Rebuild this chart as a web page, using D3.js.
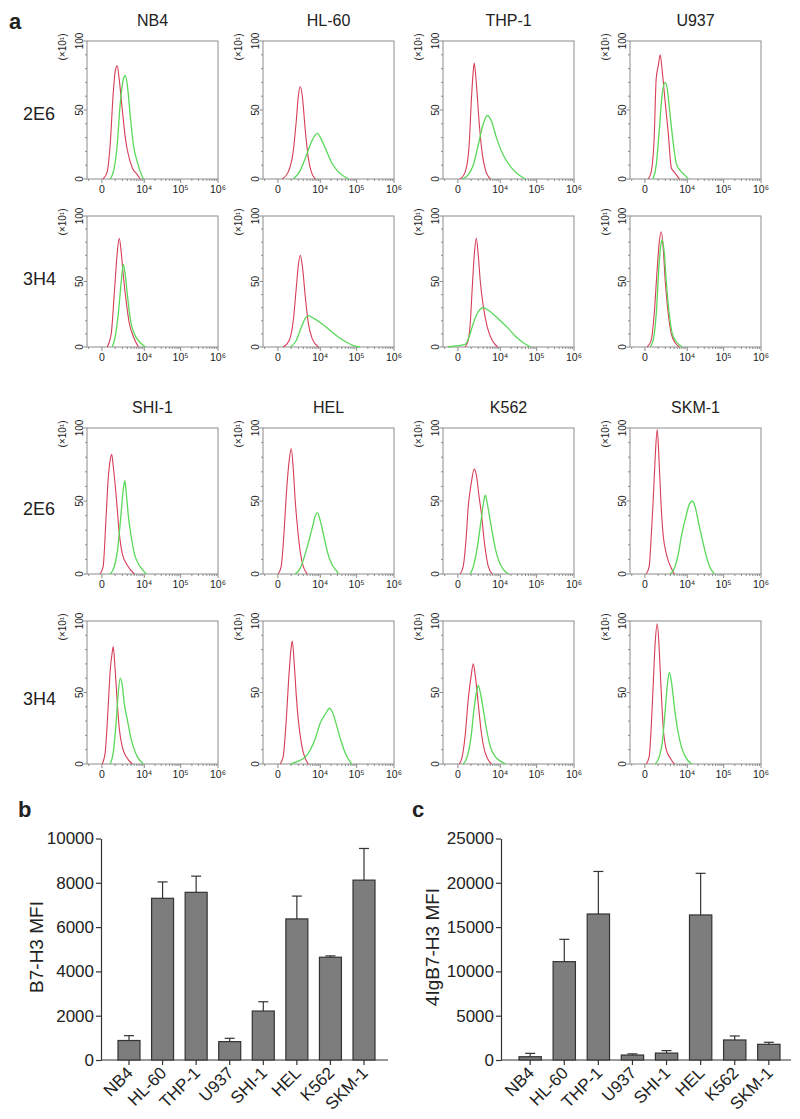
<!DOCTYPE html>
<html><head><meta charset="utf-8">
<script src="https://cdn.jsdelivr.net/npm/d3@7"></script>
<style>
body{margin:0;background:#fff}
svg{display:block}
text{font-family:"Liberation Sans",Arial,sans-serif;fill:#222}
</style>
</head><body>
<svg id="chart" width="800" height="1119"></svg>
<script>
// ---------------- DATA ----------------
const cellLines = ["NB4","HL-60","THP-1","U937","SHI-1","HEL","K562","SKM-1"];
const antibodies = ["2E6","3H4"];
const histXTicks = [0, 1e4, 1e5, 1e6];
const histXTickLabels = ["0","10\u2074","10\u2075","10\u2076"];
const histYTicks = [0, 50, 100];
const histYUnit = "(\u00d710\u00b9)";

// histograms: [fluorescence intensity, count (x10)] ; ctrl = red, stain = green
const NB4_2E6_ctrl = [[60,0],[300,5],[530,25],[800,62],[1010,78],[1250,82],[1520,72],[2000,50],[2570,30],[3010,21],[4390,8],[6280,3],[7720,0]];
const NB4_2E6_stain = [[530,0],[905,8],[1250,25],[1670,55],[2170,72],[2570,75],[3010,68],[3790,45],[4720,25],[6280,12],[7720,5],[9460,0]];
const HL60_2E6_ctrl = [[240,0],[700,5],[1250,20],[1670,42],[2000,60],[2360,67],[2780,60],[3510,35],[4390,15],[5450,5],[7220,0]];
const HL60_2E6_stain = [[1250,0],[2170,5],[3510,15],[5080,25],[6730,31],[8300,33],[10100,30],[14100,22],[20800,12],[32500,5],[61000,0]];
const THP1_2E6_ctrl = [[120,0],[450,5],[800,25],[1010,55],[1250,78],[1380,84],[1670,70],[2170,40],[2780,18],[3510,7],[5080,0]];
const THP1_2E6_stain = [[240,0],[700,3],[1250,10],[2000,25],[3010,40],[4080,46],[5450,42],[7720,30],[12350,17],[20800,8],[32500,3],[50600,0]];
const U937_2E6_ctrl = [[176,0],[375,5],[614,30],[802,73],[1013,82],[1253,90],[1521,78],[1995,55],[2566,33],[3254,8],[4080,5],[5850,0]];
const U937_2E6_stain = [[529,0],[802,10],[1129,35],[1521,62],[1995,70],[2364,65],[2781,52],[3254,38],[4080,20],[4720,11],[6280,6],[8300,3],[10800,0]];
const NB4_3H4_ctrl = [[304,0],[614,10],[905,40],[1253,72],[1521,83],[1827,72],[2173,55],[2781,34],[3513,18],[4720,8],[6730,0]];
const NB4_3H4_stain = [[705,0],[1013,8],[1383,25],[1827,50],[2173,63],[2566,55],[3010,40],[3788,21],[5076,10],[7220,4],[10800,0]];
const HL60_3H4_ctrl = [[304,0],[802,5],[1253,20],[1669,45],[1995,62],[2364,70],[2781,62],[3513,38],[4392,18],[5850,6],[8850,0]];
const HL60_3H4_stain = [[905,0],[1669,5],[2566,15],[3513,22],[4392,24],[6280,22],[10800,18],[18300,13],[30500,8],[50600,4],[83400,1],[121000,0]];
const THP1_3H4_ctrl = [[450,0],[705,5],[905,18],[1129,45],[1383,70],[1669,83],[1995,70],[2364,50],[3010,31],[4080,15],[5850,5],[8300,0]];
const THP1_3H4_stain = [[-666,0],[10,1],[450,2],[802,8],[1253,18],[1995,27],[3010,30],[4392,28],[6280,25],[10110,20],[17120,14],[26900,8],[44600,3],[69100,0]];
const U937_3H4_ctrl = [[118,0],[375,5],[614,25],[905,60],[1129,80],[1383,88],[1669,75],[1995,50],[2566,25],[3254,10],[4392,3],[5850,0]];
const U937_3H4_stain = [[304,0],[529,5],[802,25],[1129,65],[1383,80],[1521,82],[1827,72],[2173,50],[2781,25],[3513,10],[4720,4],[7220,0]];
const SHI1_2E6_ctrl = [[-94,0],[62,5],[238,40],[375,65],[529,78],[660,82],[802,74],[1129,53],[1521,28],[1995,14],[3010,6],[5076,0]];
const SHI1_2E6_stain = [[529,0],[905,5],[1253,15],[1669,35],[2173,58],[2463,64],[2781,55],[3254,40],[4080,25],[5076,14],[6730,7],[8850,3],[11550,0]];
const HEL_2E6_ctrl = [[10,0],[176,5],[375,30],[529,53],[802,78],[1013,86],[1253,72],[1521,50],[1910,30],[2364,15],[3010,5],[4080,0]];
const HEL_2E6_stain = [[1521,0],[2364,4],[3513,14],[4720,24],[5850,32],[7220,40],[8300,42],[10110,36],[12350,27],[16000,15],[20800,7],[26900,3],[32500,0]];
const K562_2E6_ctrl = [[118,0],[304,5],[529,25],[705,46],[1013,62],[1383,72],[1669,68],[2173,52],[2566,42],[3254,22],[4392,5],[5850,0]];
const K562_2E6_stain = [[905,0],[1253,5],[1827,18],[2566,38],[3254,52],[3513,54],[4080,48],[4720,40],[5850,28],[7220,17],[9460,8],[12350,3],[17120,0]];
const SKM1_2E6_ctrl = [[62,0],[238,5],[375,25],[529,50],[705,80],[905,99],[1129,75],[1383,45],[1669,26],[2173,14],[2566,9],[3254,4],[4080,0]];
const SKM1_2E6_stain = [[3010,0],[4080,4],[5450,14],[6730,26],[8850,38],[11550,48],[14100,50],[17120,45],[20800,35],[25170,26],[32500,14],[41800,5],[57300,0]];
const SHI1_3H4_ctrl = [[10,0],[176,8],[375,40],[529,65],[705,78],[802,82],[1013,65],[1253,43],[1521,25],[1995,12],[2781,5],[4392,0]];
const SHI1_3H4_stain = [[529,0],[802,8],[1129,30],[1383,50],[1669,60],[1995,55],[2364,42],[3010,31],[3788,20],[4720,12],[6280,5],[9460,0]];
const HEL_3H4_ctrl = [[118,0],[304,5],[529,30],[802,65],[1013,82],[1129,86],[1383,70],[1669,48],[1995,31],[2566,15],[3010,8],[4392,0]];
const HEL_3H4_stain = [[905,0],[1995,2],[3513,5],[5076,10],[7220,18],[10110,29],[14100,35],[18300,39],[22160,36],[28600,27],[36900,17],[50600,7],[73300,0]];
const K562_3H4_ctrl = [[62,0],[238,5],[450,20],[705,45],[1013,62],[1253,70],[1521,62],[1995,42],[2566,22],[3254,10],[4080,4],[5450,0]];
const K562_3H4_stain = [[304,0],[614,5],[1013,20],[1383,40],[1827,53],[1995,55],[2364,50],[3010,38],[3788,25],[5076,12],[7220,5],[10110,2],[14100,0]];
const SKM1_3H4_ctrl = [[62,0],[238,5],[375,25],[529,55],[705,85],[905,98],[1129,80],[1383,50],[1669,25],[2173,10],[3010,4],[4080,0]];
const SKM1_3H4_stain = [[705,0],[1129,5],[1521,15],[1995,38],[2364,55],[2781,64],[3254,58],[4080,40],[5076,25],[6730,12],[8850,5],[13180,0]];

// bar charts
const b7h3MFI = [880, 7300, 7570, 830, 2210, 6370, 4640, 8120];
const b7h3Err = [220, 740, 730, 150, 420, 1030, 60, 1430];
const b7h3Ticks = [0, 2000, 4000, 6000, 8000, 10000];
const igMFI = [370, 11100, 16480, 560, 780, 16370, 2260, 1770];
const igErr = [380, 2520, 4800, 130, 280, 4700, 450, 230];
const igTicks = [0, 5000, 10000, 15000, 20000, 25000];

// panel assembly
const panels = [
  {line:"NB4",  ab:"2E6", ctrl:NB4_2E6_ctrl,  stain:NB4_2E6_stain},
  {line:"HL-60",ab:"2E6", ctrl:HL60_2E6_ctrl, stain:HL60_2E6_stain},
  {line:"THP-1",ab:"2E6", ctrl:THP1_2E6_ctrl, stain:THP1_2E6_stain},
  {line:"U937", ab:"2E6", ctrl:U937_2E6_ctrl, stain:U937_2E6_stain},
  {line:"NB4",  ab:"3H4", ctrl:NB4_3H4_ctrl,  stain:NB4_3H4_stain},
  {line:"HL-60",ab:"3H4", ctrl:HL60_3H4_ctrl, stain:HL60_3H4_stain},
  {line:"THP-1",ab:"3H4", ctrl:THP1_3H4_ctrl, stain:THP1_3H4_stain},
  {line:"U937", ab:"3H4", ctrl:U937_3H4_ctrl, stain:U937_3H4_stain},
  {line:"SHI-1",ab:"2E6", ctrl:SHI1_2E6_ctrl, stain:SHI1_2E6_stain},
  {line:"HEL",  ab:"2E6", ctrl:HEL_2E6_ctrl,  stain:HEL_2E6_stain},
  {line:"K562", ab:"2E6", ctrl:K562_2E6_ctrl, stain:K562_2E6_stain},
  {line:"SKM-1",ab:"2E6", ctrl:SKM1_2E6_ctrl, stain:SKM1_2E6_stain},
  {line:"SHI-1",ab:"3H4", ctrl:SHI1_3H4_ctrl, stain:SHI1_3H4_stain},
  {line:"HEL",  ab:"3H4", ctrl:HEL_3H4_ctrl,  stain:HEL_3H4_stain},
  {line:"K562", ab:"3H4", ctrl:K562_3H4_ctrl, stain:K562_3H4_stain},
  {line:"SKM-1",ab:"3H4", ctrl:SKM1_3H4_ctrl, stain:SKM1_3H4_stain}
];

// ---------------- DRAW ----------------
const svg = d3.select("#chart");
const RED = "#d63d57", GREEN = "#5ad85a", FRAME = "#8c8c8c";

const colLeft = [87, 263, 443, 630], frameW = 131;
const rowTop = [41, 216, 428, 621], rowBottom = [179, 347, 574, 764];
const rowLabelY = [120, 285, 515, 705];

svg.append("text").attr("x", 9).attr("y", 29).attr("font-size", 22).attr("font-weight", "bold").text("a");

rowTop.forEach((t, r) => {
  svg.append("text").attr("x", 23).attr("y", rowLabelY[r]).attr("font-size", 18).attr("fill", "#333")
    .text(antibodies[r % 2]);
});

const minorX = [];
for (let k = 1; k <= 9; k++) minorX.push(k * 1000);
for (let k = 2; k <= 9; k++) { minorX.push(k * 1e4); minorX.push(k * 1e5); }
minorX.push(-1000);
const minorY = d3.range(0, 101, 10);

panels.forEach((p, i) => {
  const r = Math.floor(i / 4), c = i % 4;
  const L = colLeft[c], T = rowTop[r], B = rowBottom[r];
  const x = d3.scaleSymlog().constant(800).domain([-1200, 1e6]).range([L, L + frameW]);
  const y = d3.scaleLinear().domain([0, 100]).range([B, T]);
  const g = svg.append("g");

  if (r % 2 === 0) {
    g.append("text").attr("x", L + frameW / 2).attr("y", T - 15).attr("text-anchor", "middle")
      .attr("font-size", 16).attr("fill", "#333").text(p.line);
  }
  // frame
  g.append("rect").attr("x", L).attr("y", T).attr("width", frameW).attr("height", B - T)
    .attr("fill", "none").attr("stroke", FRAME).attr("stroke-width", 1);
  // y ticks
  g.selectAll(".ym").data(minorY).join("line")
    .attr("x1", L).attr("x2", d => L - (d % 50 === 0 ? 3.5 : 2))
    .attr("y1", d => y(d)).attr("y2", d => y(d)).attr("stroke", FRAME);
  g.selectAll(".yl").data(histYTicks).join("text")
    .attr("transform", d => `translate(${L - 4},${y(d)}) rotate(-90)`)
    .attr("text-anchor", "middle").attr("font-size", 10).attr("fill", "#333").text(d => d);
  g.append("text").attr("transform", `translate(${L - 21},${T + 6}) rotate(-90)`)
    .attr("text-anchor", "middle").attr("font-size", 10).attr("fill", "#333").text(histYUnit);
  // x ticks
  g.selectAll(".xm").data(minorX).join("line")
    .attr("x1", d => x(d)).attr("x2", d => x(d)).attr("y1", B).attr("y2", B + 2).attr("stroke", FRAME);
  g.selectAll(".xM").data(histXTicks).join("line")
    .attr("x1", d => x(d)).attr("x2", d => x(d)).attr("y1", B).attr("y2", B + 4).attr("stroke", FRAME);
  g.selectAll(".xl").data(histXTicks).join("text")
    .attr("x", d => x(d)).attr("y", B + 14).attr("text-anchor", "middle")
    .attr("font-size", 10.5).attr("fill", "#333").text((d, j) => histXTickLabels[j]);

  const line = d3.line().x(d => x(d[0])).y(d => y(d[1])).curve(d3.curveMonotoneX);
  g.append("path").datum(p.ctrl).attr("d", line).attr("fill", "none").attr("stroke", RED).attr("stroke-width", 1.1);
  g.append("path").datum(p.stain).attr("d", line).attr("fill", "none").attr("stroke", GREEN).attr("stroke-width", 1.3);
});

// ---------------- BAR CHARTS ----------------
function barChart(o) {
  const g = svg.append("g");
  const y = d3.scaleLinear().domain([0, o.ticks[o.ticks.length - 1]]).range([o.y0, o.yTop]);
  const xb = d3.scaleBand().domain(cellLines).range(o.barRange).paddingInner(0.345).paddingOuter(0);
  g.append("text").attr("x", o.letterX).attr("y", 817).attr("font-size", 22).attr("font-weight", "bold").text(o.letter);
  // y axis
  const ya = g.append("g").attr("transform", `translate(${o.axisX},0)`)
    .call(d3.axisLeft(y).tickValues(o.ticks).tickSize(5).tickSizeOuter(0).tickFormat(d3.format("d")));
  ya.select(".domain").attr("stroke", "#333").attr("stroke-width", 1.2);
  ya.selectAll(".tick line").attr("stroke", "#333").attr("stroke-width", 1.2);
  ya.selectAll(".tick text").attr("font-size", 17).attr("font-family", "Liberation Sans, Arial, sans-serif").attr("fill", "#222").attr("x", -7);
  // x axis
  g.append("line").attr("x1", o.axisX).attr("x2", o.axisRight).attr("y1", y(0)).attr("y2", y(0))
    .attr("stroke", "#333").attr("stroke-width", 1.2);
  g.selectAll(".xt").data(cellLines).join("line")
    .attr("x1", d => xb(d) + xb.bandwidth() / 2).attr("x2", d => xb(d) + xb.bandwidth() / 2)
    .attr("y1", y(0)).attr("y2", y(0) + 5).attr("stroke", "#333").attr("stroke-width", 1.2);
  // bars
  g.selectAll(".bar").data(o.values).join("rect")
    .attr("x", (d, i) => xb(cellLines[i])).attr("width", xb.bandwidth())
    .attr("y", d => y(d)).attr("height", d => y(0) - y(d))
    .attr("fill", "#7d7d7d").attr("stroke", "#333").attr("stroke-width", 1.2);
  // error bars
  o.values.forEach((v, i) => {
    const cx = xb(cellLines[i]) + xb.bandwidth() / 2;
    g.append("line").attr("x1", cx).attr("x2", cx).attr("y1", y(v)).attr("y2", y(v + o.err[i]))
      .attr("stroke", "#333").attr("stroke-width", 1.2);
    g.append("line").attr("x1", cx - 5).attr("x2", cx + 5).attr("y1", y(v + o.err[i])).attr("y2", y(v + o.err[i]))
      .attr("stroke", "#333").attr("stroke-width", 1.2);
  });
  // x labels
  g.selectAll(".xl").data(cellLines).join("text")
    .attr("transform", d => `translate(${xb(d) + xb.bandwidth() / 2 + 5},${y(0) + 14}) rotate(-45)`)
    .attr("text-anchor", "end").attr("font-size", 17).attr("fill", "#222").text(d => d);
  // y title
  g.append("text").attr("transform", `translate(${o.titleX},${o.titleY}) rotate(-90)`)
    .attr("text-anchor", "middle").attr("font-size", 19).attr("fill", "#222").text(o.title);
}

barChart({letter:"b", letterX:18, values:b7h3MFI, err:b7h3Err, ticks:b7h3Ticks,
  y0:1060, yTop:838.5, axisX:101, axisRight:388, barRange:[118, 375],
  title:"B7-H3 MFI", titleX:43, titleY:947});
barChart({letter:"c", letterX:412, values:igMFI, err:igErr, ticks:igTicks,
  y0:1060, yTop:838.5, axisX:501, axisRight:791, barRange:[519, 780],
  title:"4IgB7-H3 MFI", titleX:439, titleY:947});
</script>
</body></html>
